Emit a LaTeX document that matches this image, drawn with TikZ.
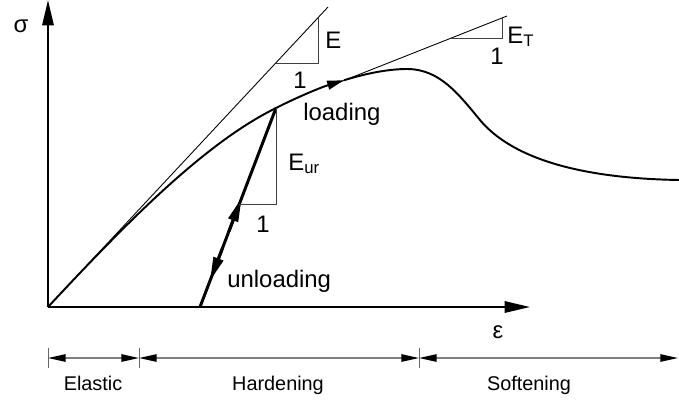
\documentclass[tikz,border=0pt]{standalone}
\usepackage{fontspec}
\setmainfont{Liberation Sans}
\usetikzlibrary{arrows.meta,calc}
\tikzset{
  axis/.style={line width=1.1pt, -{Triangle[length=14.5pt,width=6.5pt]}},
  load/.style={line width=1.1pt},
  unload/.style={line width=1.7pt},
  tangent/.style={line width=0.5pt},
  slopetri/.style={line width=0.5pt, draw=black!75},
  dimline/.style={line width=0.8pt, draw=black!50},
  dimarrows/.style={{Triangle[length=10pt,width=4.2pt,color=black]}-{Triangle[length=10pt,width=4.2pt,color=black]}},
  dimtick/.style={line width=0.5pt, draw=black!60},
  lbl/.style={font=\fontsize{13.6}{16}\selectfont, inner sep=0pt},
  zone/.style={font=\fontsize{11.3}{13}\selectfont, inner sep=0pt},
}

\begin{document}
\begin{tikzpicture}[x=0.02cm, y=-0.02cm]
\useasboundingbox (0,0) rectangle (679,400);

% axes
\coordinate (O) at (48,307);
\coordinate (ytop) at (48,0);
\coordinate (xend) at (530,307);
\draw[axis] (O) -- (ytop);
\draw[axis] (O) -- (xend);
\node[lbl] (sigma) at (21,26) {σ};
\node[lbl] (eps) at (498,332) {ε};

% points on the curve
\coordinate (A) at (276,108);
\coordinate (B) at (344,80.25);
\coordinate (C) at (407,69);
\coordinate (D) at (480,120);
\coordinate (F) at (679,180);
\coordinate (U) at (200,307);

% tangent E
\coordinate (Etop) at (328,7);
\draw[tangent] (O) -- (Etop);
\draw[slopetri] ($(O)!0.9643!(Etop)$) |- ($(O)!0.8133!(Etop)$);
\node[lbl, anchor=base west] (Elbl) at (325,48) {E};
\node[lbl] (Eone) at (300,80) {1};

% tangent E_T
\coordinate (Tbot) at (330,86);
\coordinate (Ttop) at (507,16);
\draw[tangent] (Tbot) -- (Ttop);
\draw[slopetri] ($(Tbot)!0.9718!(Ttop)$) |- ($(Tbot)!0.6857!(Ttop)$);
\node[lbl, anchor=base west] (ETlbl) at (507,43) {E\textsubscript{T}};
\node[lbl] (ETone) at (497,56) {1};

% loading curve
\draw[load, -{Triangle[length=9.6pt,width=5pt]}] (O) .. controls (128,221) and (205,143) .. (A)
  .. controls (297.5,97) and (321.25,87.25) .. (B);
\draw[load] (B) .. controls (366.75,73.25) and (388.5,69) .. (C)
  .. controls (440,69) and (459.2,95) .. (D)
  .. controls (505,150) and (560,178) .. (F);
\node[lbl, anchor=base west] (loadlbl) at (303,120) {loading};

% unloading / reloading
\draw[unload] (A) -- (U);
\draw[unload, -{Triangle[length=13.6pt,width=5.7pt]}] ($(A)!0.62!(U)$) -- ($(A)!0.452!(U)$);
\draw[unload, -{Triangle[length=13.6pt,width=5.7pt]}] ($(A)!0.7!(U)$) -- ($(A)!0.869!(U)$);
\draw[slopetri] (A) |- ($(A)!0.487!(U)$);
\node[lbl, anchor=base west] (Eurlbl) at (288,170) {E\textsubscript{ur}};
\node[lbl] (Eurone) at (263,224) {1};
\node[lbl, anchor=base west] (unloadlbl) at (227,287) {unloading};

% zones
\coordinate (d0) at (48,358);
\coordinate (d1) at (139,358);
\coordinate (d2) at (419,358);
\coordinate (d3) at (678,358);
\foreach \t in {d0,d1,d2}
  \draw[dimtick] ($(\t)+(0,-10)$) -- ($(\t)+(0,10)$);
\draw[dimline, dimarrows] (d0) -- (d1);
\draw[dimline, dimarrows] (d1) -- (d2);
\draw[dimline, dimarrows] (d2) -- (d3);
\node[zone, anchor=base] (elastic) at (93,390) {Elastic};
\node[zone, anchor=base] (hardening) at (278,390) {Hardening};
\node[zone, anchor=base] (softening) at (529,390) {Softening};
\end{tikzpicture}
\end{document}
